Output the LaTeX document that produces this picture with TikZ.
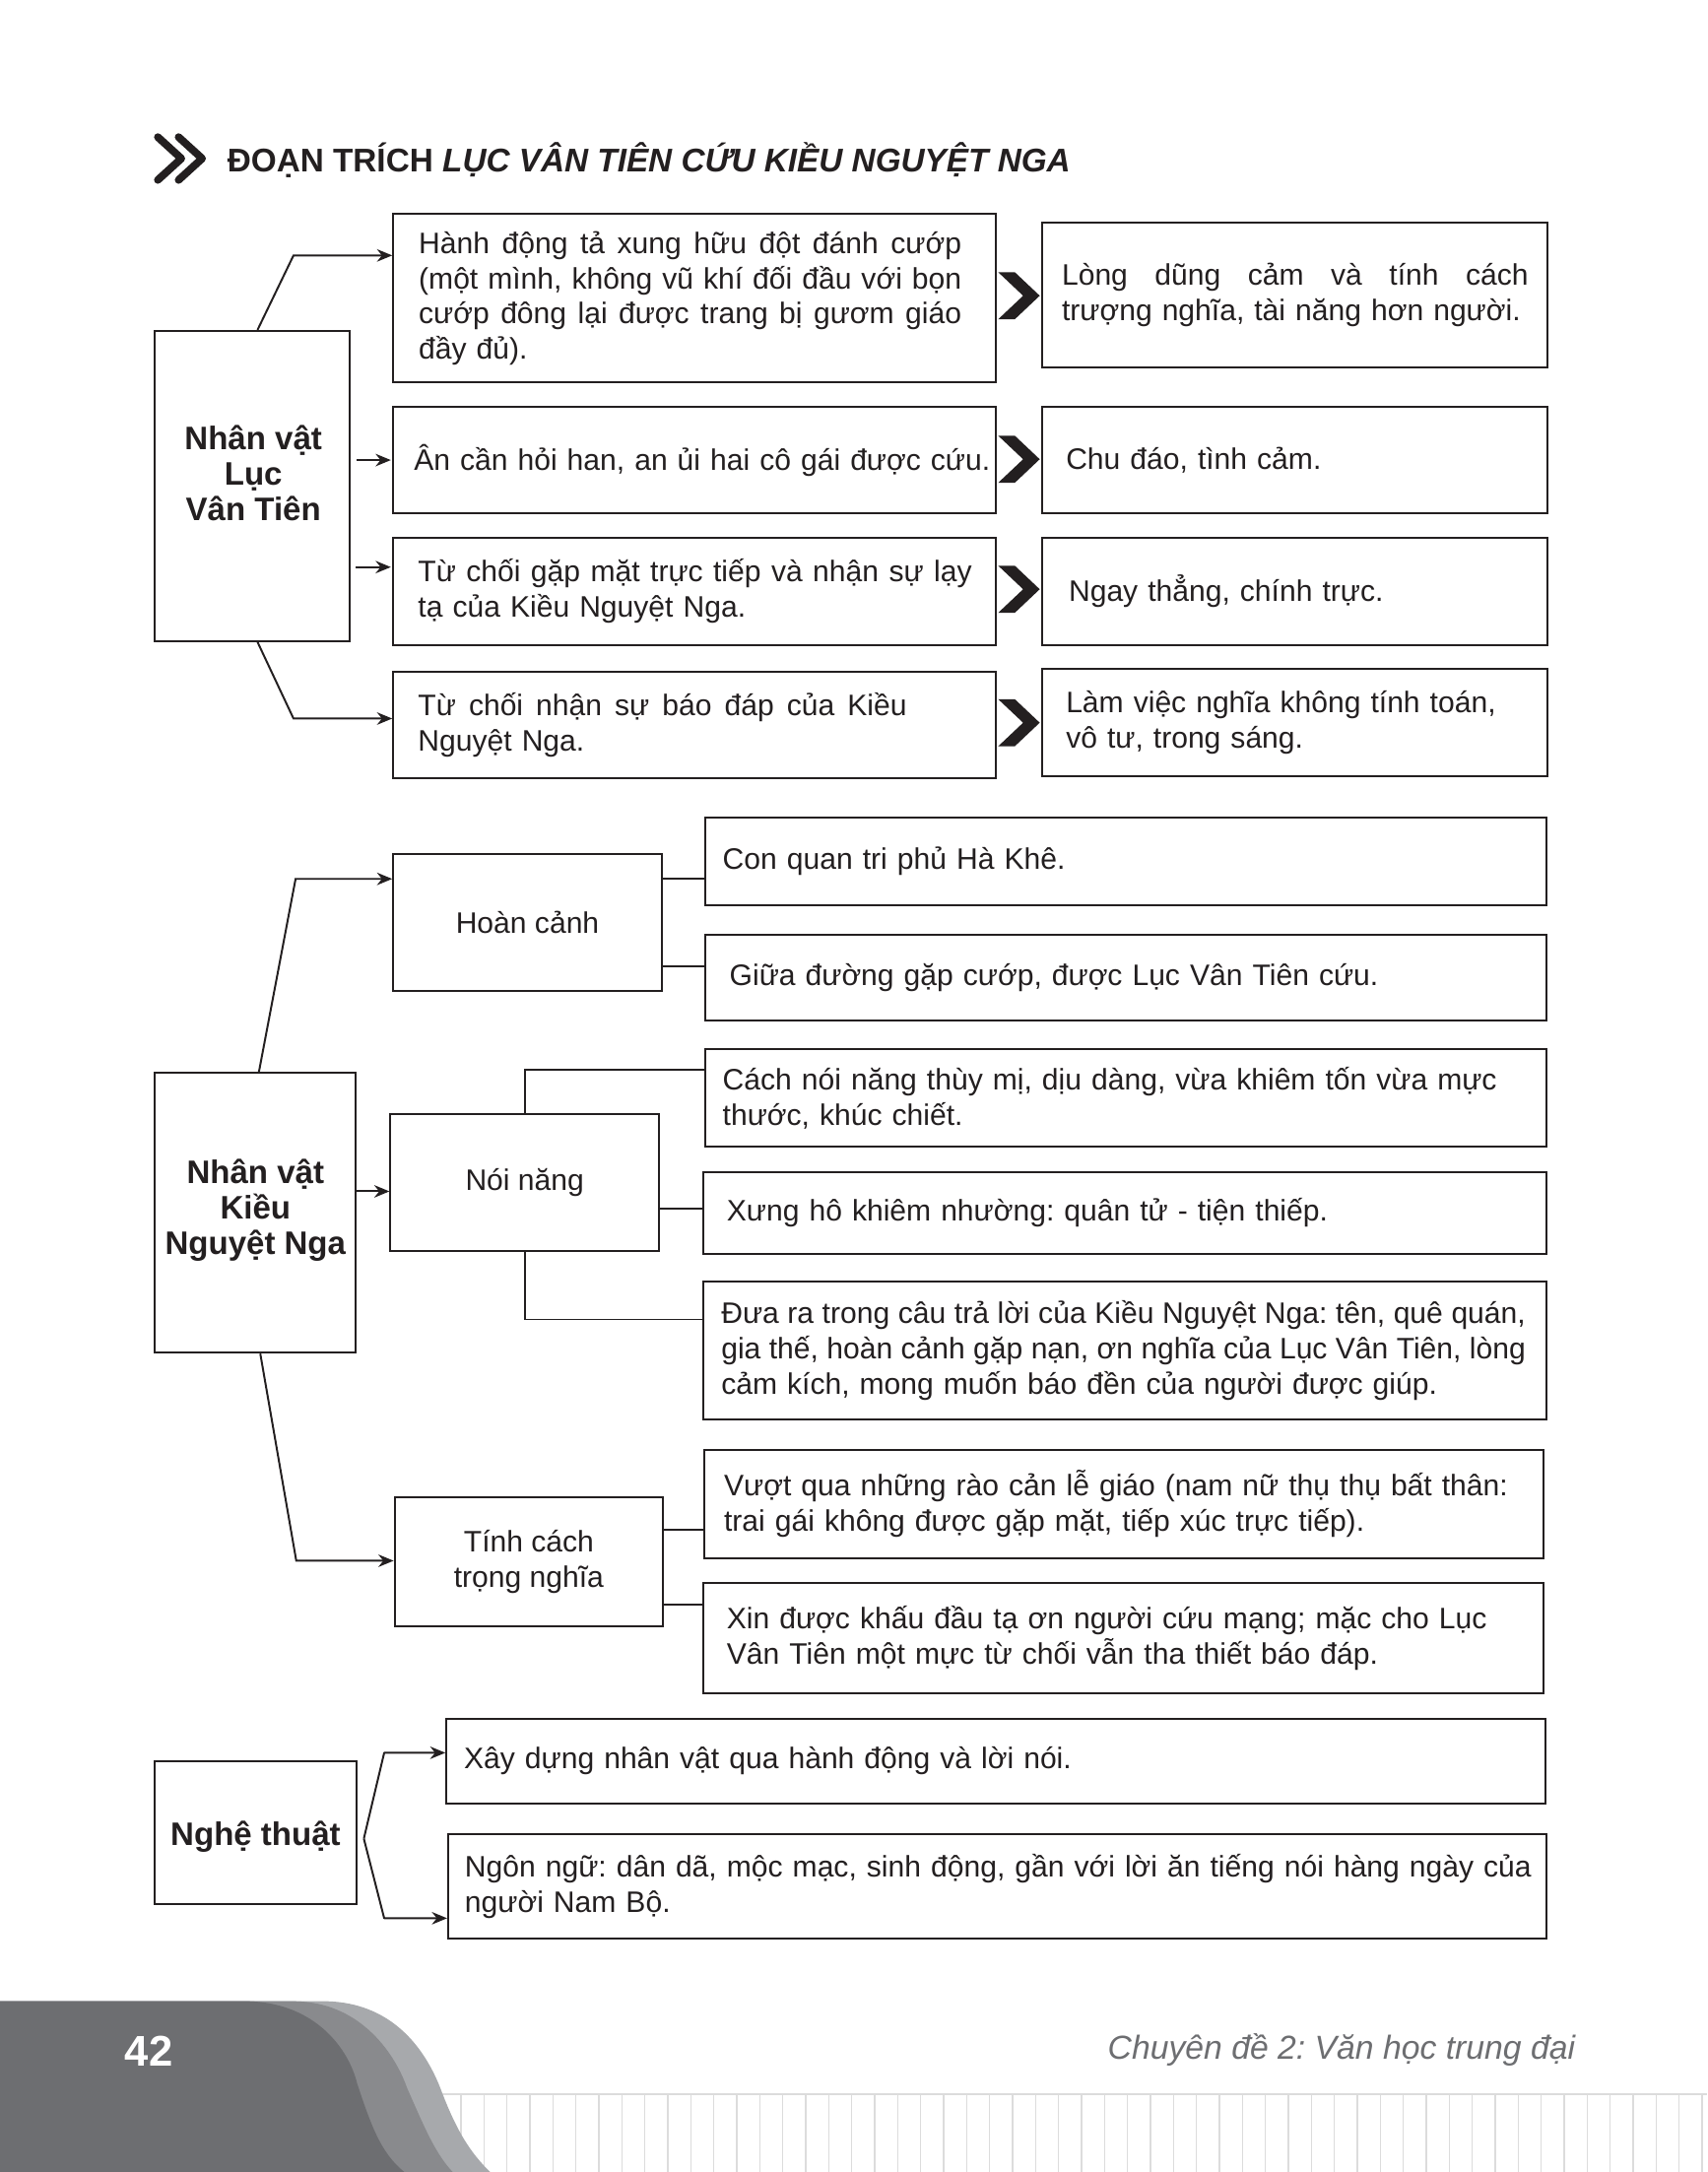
\documentclass[tikz,border=0pt]{standalone}
\usepackage{fontspec}
\setmainfont{Liberation Sans}
\usetikzlibrary{arrows.meta}
\definecolor{ink}{HTML}{231F20}
\definecolor{gA}{HTML}{6D6E71}
\definecolor{gB}{HTML}{898A8D}
\definecolor{gC}{HTML}{A7A9AC}
\definecolor{gL}{HTML}{DCDCDC}
\newcommand\bodyfont{\fontsize{21.4}{25.5}\selectfont\frenchspacing}
\newcommand\headfont{\fontsize{23.5}{25.5}\selectfont\bfseries}
\newcommand\justline[2]{\makebox[#1][s]{\spaceskip=0.278em plus 1fil minus 0.12em\relax #2}}
\newcommand\chevat[2]{\fill[ink] (#1-15,#2-17) -- (#1-3,#2-17) -- (#1+15,#2) -- (#1-3,#2+17) -- (#1-15,#2+17) -- (#1+3,#2) -- cycle;}
\tikzset{
 box/.style={draw=ink, line width=1.4pt, inner sep=0pt, align=left, font=\bodyfont, text=ink},
 hbox/.style={draw=ink, line width=1.4pt, inner sep=0pt},
 htext/.style={inner sep=0pt, align=center, font=\headfont, text=ink},
 mbox/.style={draw=ink, line width=1.4pt, inner sep=0pt, align=center, font=\bodyfont, text=ink, minimum width=194pt},
 arr/.style={draw=ink, line width=1.4pt, -{Stealth[length=11pt,width=9pt]}},
 link/.style={draw=ink, line width=1.4pt},
}
\begin{document}
\begin{tikzpicture}[x=1pt,y=-1pt]
\fill[white] (0,0) rectangle (1233,1568.8);
\useasboundingbox (0,0) rectangle (1233,1568.8);

% ---------- title ----------
\draw[ink, line width=5.5pt, line cap=round, line join=round] (114,99) -- (131,114.5) -- (114,130);
\draw[ink, line width=5.5pt, line cap=round, line join=round] (129,99) -- (146,114.5) -- (129,130);
\node[anchor=base west, inner sep=0pt, text=ink, font=\fontsize{23.7}{25}\selectfont\bfseries] (title) at (164,124.5) {ĐOẠN TRÍCH \textit{LỤC VÂN TIÊN CỨU KIỀU NGUYỆT NGA}};

% ---------- section 1 ----------
\node[hbox, minimum width=140.6pt, minimum height=224pt] (lvt) at (182.3,351) {};
\node[htext] (lvtt) at (183,341.7) {Nhân vật\\Lục\\Vân Tiên};

\node[box, minimum width=435pt, minimum height=121.7pt, text width=398pt] (a1) at (501.5,215.5)
 {\justline{392pt}{Hành động tả xung hữu đột đánh cướp}\\\justline{392pt}{(một mình, không vũ khí đối đầu với bọn}\\\justline{392pt}{cướp đông lại được trang bị gươm giáo}\\đầy đủ).};
\node[box, minimum width=435pt, minimum height=77.4pt, text width=405pt] (a2) at (501.5,332.3)
 {\mbox{Ân cần hỏi han, an ủi hai cô gái được cứu.}};
\node[box, minimum width=435pt, minimum height=77.5pt, text width=399pt] (a3) at (501.5,427.2)
 {\justline{400pt}{Từ chối gặp mặt trực tiếp và nhận sự lạy}\\tạ của Kiều Nguyệt Nga.};
\node[box, minimum width=435pt, minimum height=77pt, text width=399pt] (a4) at (501.5,523.5)
 {\justline{353pt}{Từ chối nhận sự báo đáp của Kiều}\\Nguyệt Nga.};

\node[box, minimum width=365pt, minimum height=105pt, text width=337pt] (b1) at (935.5,213)
 {\justline{337pt}{Lòng dũng cảm và tính cách}\\trượng nghĩa, tài năng hơn người.};
\node[box, minimum width=365pt, minimum height=77pt, text width=331pt] (b2) at (935.5,332.5)
 {Chu đáo, tình cảm.};
\node[box, minimum width=365pt, minimum height=77.5pt, text width=327pt] (b3) at (935.5,427.2)
 {Ngay thẳng, chính trực.};
\node[box, minimum width=365pt, minimum height=77.7pt, text width=331pt] (b4) at (935.5,521.8)
 {Làm việc nghĩa không tính toán,\\vô tư, trong sáng.};

\chevat{736}{213.6}
\chevat{736}{331.7}
\chevat{736}{425.6}
\chevat{736}{522}

\coordinate (k1) at (212,184.5);
\coordinate (k3) at (257,409.6);
\coordinate (k4) at (212,519);
\draw[arr] ([xshift=3.7pt]lvt.north) -- (k1) -- (a1.west |- k1);
\draw[arr] ([xshift=4.5pt]lvt.east |- a2.west) -- ([xshift=-1pt]a2.west);
\draw[arr] (k3) -- ([xshift=-1pt]a3.west |- k3);
\draw[arr] ([xshift=3.7pt]lvt.south) -- (k4) -- (a4.west |- k4);

% ---------- section 2 ----------
\node[hbox, minimum width=145pt, minimum height=202pt] (knn) at (184.5,876) {};
\node[htext] (knnt) at (184.5,874) {Nhân vật\\Kiều\\Nguyệt Nga};

\node[mbox, minimum height=99pt] (hc) at (381,666.5) {Hoàn cảnh};
\node[mbox, minimum height=98.6pt] (nn) at (379,854.3) {Nói năng};
\node[mbox, minimum height=93pt] (tc) at (382,1128) {Tính cách\\trọng nghĩa};

\node[box, minimum width=607.5pt, minimum height=63.5pt, text width=582.5pt] (c1) at (813.25,622.2)
 {Con quan tri phủ Hà Khê.};
\node[box, minimum width=607.5pt, minimum height=62pt, text width=572.5pt] (c2) at (813.25,706.4)
 {Giữa đường gặp cướp, được Lục Vân Tiên cứu.};
\node[box, minimum width=607.5pt, minimum height=70.2pt, text width=582.5pt] (c3) at (813.25,792.9)
 {\mbox{Cách nói năng thùy mị, dịu dàng, vừa khiêm tốn vừa mực}\\thước, khúc chiết.};
\node[box, minimum width=609pt, minimum height=59.6pt, text width=575pt] (c4) at (812.5,876.2)
 {Xưng hô khiêm nhường: quân tử - tiện thiếp.};
\node[box, minimum width=609pt, minimum height=99.3pt, text width=583pt] (c5) at (812.5,975.3)
 {\justline{581pt}{Đưa ra trong câu trả lời của Kiều Nguyệt Nga: tên, quê quán,}\\\justline{581pt}{gia thế, hoàn cảnh gặp nạn, ơn nghĩa của Lục Vân Tiên, lòng}\\cảm kích, mong muốn báo đền của người được giúp.};
\node[box, minimum width=606pt, minimum height=78.4pt, text width=578pt] (d1) at (812,1086.2)
 {\mbox{Vượt qua những rào cản lễ giáo (nam nữ thụ thụ bất thân:}\\trai gái không được gặp mặt, tiếp xúc trực tiếp).};
\node[box, minimum width=607pt, minimum height=79.5pt, text width=573pt] (d2) at (811.5,1183.2)
 {\mbox{Xin được khấu đầu tạ ơn người cứu mạng; mặc cho Lục}\\Vân Tiên một mực từ chối vẫn tha thiết báo đáp.};

\coordinate (k5) at (213.5,634.8);
\coordinate (k6) at (0,860.5);
\coordinate (k7) at (214,1127.3);
\draw[arr] ([xshift=2.5pt]knn.north) -- (k5) -- (hc.west |- k5);
\draw[arr] (knn.east |- k6) -- (nn.west |- k6);
\draw[arr] ([xshift=3.5pt]knn.south) -- (k7) -- (tc.west |- k7);

\coordinate (k8) at (0,634.8);
\coordinate (k9) at (0,698);
\coordinate (k10) at (0,772.8);
\coordinate (k11) at (0,872.8);
\coordinate (k12) at (0,953);
\coordinate (k13) at (0,1105);
\coordinate (k14) at (0,1159);
\draw[link] (hc.east |- k8) -- (c1.west |- k8);
\draw[link] (hc.east |- k9) -- (c2.west |- k9);
\draw[link] (nn.north) |- (c3.west |- k10);
\draw[link] (nn.east |- k11) -- (c4.west |- k11);
\draw[link] (nn.south) |- (c5.west |- k12);
\draw[link] (tc.east |- k13) -- (d1.west |- k13);
\draw[link] (tc.east |- k14) -- (d2.west |- k14);

% ---------- section 3 ----------
\node[hbox, minimum width=145.3pt, minimum height=103.5pt] (nt) at (184.6,1323.7) {};
\node[htext] (ntt) at (184.6,1327) {Nghệ thuật};
\node[box, minimum width=793.6pt, minimum height=61pt, text width=768pt] (e1) at (719.2,1272)
 {Xây dựng nhân vật qua hành động và lời nói.};
\node[box, minimum width=793.3pt, minimum height=75.4pt, text width=769pt] (e2) at (720.3,1362.3)
 {\mbox{Ngôn ngữ: dân dã, mộc mạc, sinh động, gần với lời ăn tiếng nói hàng ngày của}\\người Nam Bộ.};
\coordinate (ap) at (262.8,1328);
\coordinate (m1) at (277.5,1266);
\coordinate (m2) at (277.5,1385.5);
\draw[arr, line join=round] (ap) -- (m1) -- (e1.west |- m1);
\draw[arr, line join=round] (ap) -- (m2) -- (e2.west |- m2);

% ---------- footer ----------
\draw[gL, line width=0.8pt] (300,1512.6) -- (1233,1512.6);
\foreach \i in {0,...,54} \draw[gL, line width=0.8pt] (333+16.6*\i,1512.6) -- (333+16.6*\i,1568.8);
\fill[gC] (0,1445.5) -- (237,1445.5) .. controls (280,1447) and (305,1475) .. (318,1508) .. controls (330,1540) and (340,1555) .. (354,1568.8) -- (0,1568.8) -- cycle;
\fill[gB] (0,1445.5) -- (213,1445.5) .. controls (258,1446) and (284,1480) .. (294,1508) .. controls (308,1540) and (315,1556) .. (327,1568.8) -- (0,1568.8) -- cycle;
\fill[gA] (0,1445.5) -- (180,1445.5) .. controls (228,1447) and (252,1480) .. (258,1505) .. controls (268,1535) and (275,1555) .. (292,1568.8) -- (0,1568.8) -- cycle;
\node[inner sep=0pt, text=white, font=\fontsize{31}{31}\selectfont\bfseries] (pg) at (107.5,1481.5) {42};
\node[anchor=base west, inner sep=0pt, text=gA, font=\fontsize{24}{24}\selectfont\itshape\frenchspacing] (chap) at (800,1487) {Chuyên đề 2: Văn học trung đại};
\end{tikzpicture}
\end{document}
